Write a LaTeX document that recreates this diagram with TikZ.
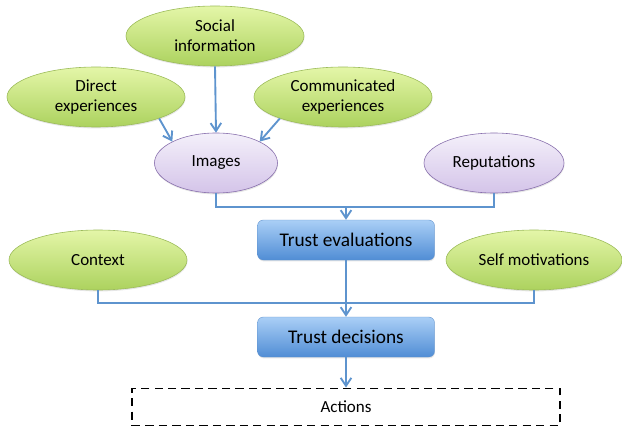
\documentclass[tikz,border=0pt]{standalone}
\usepackage{fontspec}
\setmainfont{Carlito}
\usetikzlibrary{arrows.meta,positioning,shapes.geometric,shadows}
\definecolor{TrGreenTop}{RGB}{228,246,168}
\definecolor{TrGreenBot}{RGB}{172,210,94}
\definecolor{TrGreenLine}{RGB}{155,187,89}
\definecolor{TrLilacTop}{RGB}{244,240,250}
\definecolor{TrLilacBot}{RGB}{212,196,233}
\definecolor{TrLilacLine}{RGB}{135,110,172}
\definecolor{TrBlueTop}{RGB}{170,207,246}
\definecolor{TrBlueBot}{RGB}{80,141,213}
\definecolor{TrBlueLine}{RGB}{95,145,205}
\definecolor{TrArrow}{RGB}{94,148,206}
\tikzset{
  tr/source/.style={
    ellipse,
    draw=TrGreenLine,
    line width=0.5pt,
    top color=TrGreenTop,
    bottom color=TrGreenBot,
    align=center,
    inner sep=0pt,
    minimum width=5.34cm,
    minimum height=1.8cm,
    drop shadow={opacity=0.2,shadow xshift=0.4pt,shadow yshift=-1.2pt},
    font=\fontsize{14.5}{17}\selectfont
  },
  tr/image/.style={
    ellipse,
    draw=TrLilacLine,
    line width=0.5pt,
    top color=TrLilacTop,
    bottom color=TrLilacBot,
    align=center,
    inner sep=0pt,
    minimum height=1.8cm,
    drop shadow={opacity=0.2,shadow xshift=0.4pt,shadow yshift=-1.2pt},
    font=\fontsize{14.5}{17}\selectfont
  },
  tr/box/.style={
    rectangle,
    rounded corners=5pt,
    draw=TrBlueLine,
    line width=0.3pt,
    top color=TrBlueTop,
    bottom color=TrBlueBot,
    align=center,
    minimum width=5.31cm,
    minimum height=1.2cm,
    drop shadow={opacity=0.2,shadow xshift=0.4pt,shadow yshift=-1.2pt},
    font=\fontsize{16.5}{19}\selectfont
  },
  tr/future/.style={
    rectangle,
    draw=black,
    line width=1.6pt,
    dash pattern=on 7pt off 4.5pt,
    fill=white,
    minimum width=12.84cm,
    minimum height=1.11cm,
    font=\fontsize{14.5}{17}\selectfont
  },
  tr/line/.style={line width=1.6pt, draw=TrArrow},
  tr/arrow/.style={-{Straight Barb[length=2.4mm,width=3.2mm]}, line width=1.6pt, draw=TrArrow}
}
\begin{document}
\begin{tikzpicture}[x=1cm,y=1cm]
  \useasboundingbox (0,0) rectangle (18.66,12.81);
  % inputs to images
  \node[tr/source] (social) at (6.45,11.73) {Social\\information};
  \node[tr/source] (direct) at (2.88,9.90) {Direct\\experiences};
  \node[tr/source] (comm) at (10.29,9.90) {Communicated\\experiences};
  \node[tr/image,minimum width=3.69cm] (images) at (6.48,7.92) {Images};
  \node[tr/image,minimum width=4.20cm] (reput) at (14.82,7.92) {Reputations};
  \node[tr/box] (treval) at (10.38,5.61) {Trust evaluations};
  \node[tr/source] (context) at (2.94,5.01) {Context};
  \node[tr/source,minimum width=5.28cm] (selfmot) at (16.02,5.01) {Self motivations};
  \node[tr/box] (tdec) at (10.38,2.70) {Trust decisions};
  \node[tr/future] (actions) at (10.38,0.60) {Actions};
  \coordinate (merge1) at (10.38,6.60);
  \coordinate (merge2) at (10.38,3.72);
  \draw[tr/arrow] (direct.south east) -- (images.north west);
  \draw[tr/arrow] (social.south) -- (images.north);
  \draw[tr/arrow] (comm.south west) -- (images.north east);
  \draw[tr/line] (images.south) |- (merge1) -| (reput.south);
  \draw[tr/arrow] (merge1) -- (treval.north);
  \draw[tr/line] (context.south) |- (merge2) -| (selfmot.south);
  \draw[tr/arrow] (treval.south) -- (tdec.north);
  \draw[tr/arrow] (tdec.south) -- (actions.north);
\end{tikzpicture}
\end{document}
